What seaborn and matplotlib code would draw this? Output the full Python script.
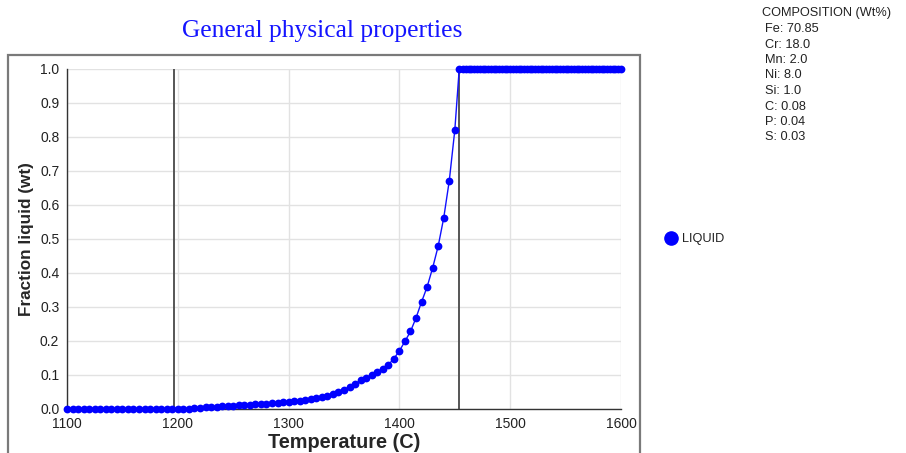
import matplotlib
matplotlib.use("Agg")
import matplotlib.pyplot as plt
from matplotlib.patches import Rectangle
from matplotlib.lines import Line2D
from matplotlib.ticker import MultipleLocator, FormatStrFormatter
import seaborn as sns
import pandas as pd

# ---- data ----
temperature = [
    1100, 1105, 1110, 1115, 1120, 1125, 1130, 1135, 1140, 1145,
    1150, 1155, 1160, 1165, 1170, 1175, 1180, 1185, 1190, 1195,
    1200, 1205, 1210, 1215, 1220, 1225, 1230, 1235, 1240, 1245,
    1250, 1255, 1260, 1265, 1270, 1275, 1280, 1285, 1290, 1295,
    1300, 1305, 1310, 1315, 1320, 1325, 1330, 1335, 1340, 1345,
    1350, 1355, 1360, 1365, 1370, 1375, 1380, 1385, 1390, 1395,
    1400, 1405, 1410, 1415, 1420, 1425, 1430, 1435, 1440, 1445,
    1450, 1454,
    1457.5, 1460, 1462.5, 1465, 1467.5, 1470, 1472.5, 1475, 1477.5, 1480,
    1482.5, 1485, 1487.5, 1490, 1492.5, 1495, 1497.5, 1500, 1502.5, 1505,
    1507.5, 1510, 1512.5, 1515, 1517.5, 1520, 1522.5, 1525, 1527.5, 1530,
    1532.5, 1535, 1537.5, 1540, 1542.5, 1545, 1547.5, 1550, 1552.5, 1555,
    1557.5, 1560, 1562.5, 1565, 1567.5, 1570, 1572.5, 1575, 1577.5, 1580,
    1582.5, 1585, 1587.5, 1590, 1592.5, 1595, 1597.5, 1600,
]
fraction_liquid = [
    0.0, 0.0, 0.0, 0.0, 0.0, 0.0, 0.0, 0.0, 0.0, 0.0,
    0.0, 0.0, 0.0, 0.0, 0.0, 0.0, 0.0, 0.0, 0.0, 0.0,
    0.0, 0.0, 0.0, 0.002, 0.003, 0.005, 0.006, 0.007, 0.008, 0.009,
    0.010, 0.011, 0.012, 0.013, 0.014, 0.015, 0.016, 0.017, 0.018, 0.020,
    0.021, 0.023, 0.025, 0.027, 0.029, 0.032, 0.035, 0.039, 0.044, 0.050,
    0.057, 0.065, 0.074, 0.084, 0.092, 0.100, 0.108, 0.118, 0.130, 0.148,
    0.171, 0.199, 0.228, 0.268, 0.315, 0.359, 0.415, 0.479, 0.562, 0.671,
    0.820, 1.0,
    1.0, 1.0, 1.0, 1.0, 1.0, 1.0, 1.0, 1.0, 1.0, 1.0,
    1.0, 1.0, 1.0, 1.0, 1.0, 1.0, 1.0, 1.0, 1.0, 1.0,
    1.0, 1.0, 1.0, 1.0, 1.0, 1.0, 1.0, 1.0, 1.0, 1.0,
    1.0, 1.0, 1.0, 1.0, 1.0, 1.0, 1.0, 1.0, 1.0, 1.0,
    1.0, 1.0, 1.0, 1.0, 1.0, 1.0, 1.0, 1.0, 1.0, 1.0,
    1.0, 1.0, 1.0, 1.0, 1.0, 1.0, 1.0, 1.0,
]
marker_temps = [1197, 1454]   # solidus / liquidus vertical lines
composition = ["Fe: 70.85", "Cr: 18.0", "Mn: 2.0", "Ni: 8.0",
               "Si: 1.0", "C: 0.08", "P: 0.04", "S: 0.03"]
series_name = "LIQUID"

df = pd.DataFrame({"Temperature": temperature, "Fraction": fraction_liquid})

sns.set_style("white")
plt.rcParams["font.family"] = ["Liberation Sans", "DejaVu Sans"]

fig = plt.figure(figsize=(9.06, 4.53), dpi=100)
ax = fig.add_axes([67/906, 1-409/453, (621-67)/906, (409-69)/453])

# outer frame
fig.patches.append(Rectangle((8/906, -0.05), (640-8)/906, 1.05-55/453,
                             transform=fig.transFigure, fill=False,
                             edgecolor="#7a7a7a", linewidth=1.6))

ax.set_xlim(1100, 1600)
ax.set_ylim(0, 1.0)
ax.xaxis.set_major_locator(MultipleLocator(100))
ax.xaxis.set_minor_locator(MultipleLocator(50))
ax.yaxis.set_major_locator(MultipleLocator(0.1))
ax.yaxis.set_minor_locator(MultipleLocator(0.05))
ax.yaxis.set_major_formatter(FormatStrFormatter("%.1f"))
ax.xaxis.set_major_formatter(FormatStrFormatter("%d"))
ax.grid(True, which="major", color="#e2e2e2", linewidth=1.0)
ax.set_axisbelow(True)

for t in marker_temps:
    ax.axvline(t, color="#555555", linewidth=1.4, zorder=2)

sns.lineplot(data=df, x="Temperature", y="Fraction", ax=ax, color="#1010ff",
             linewidth=1.0, marker="o", markersize=5.6, markeredgewidth=0,
             markerfacecolor="#0000ff", clip_on=False, zorder=3, legend=False)

for s in ["top", "right"]:
    ax.spines[s].set_visible(False)
for s in ["left", "bottom"]:
    ax.spines[s].set_color("#333333")
    ax.spines[s].set_linewidth(1.0)

ax.tick_params(axis="y", which="major", direction="out", length=4,
               width=1, color="#222222", labelsize=10, labelcolor="#222222", pad=1.5)
ax.tick_params(axis="y", which="minor", direction="inout", length=6,
               width=1, color="#222222")
ax.tick_params(axis="x", which="both", direction="in", length=4,
               width=1, color="#222222", labelsize=10, labelcolor="#222222", pad=6)

ax.set_xlabel("Temperature (C)", fontsize=14.3, fontweight="bold", labelpad=1)
ax.set_ylabel("Fraction liquid (wt)", fontsize=12.3, fontweight="bold", labelpad=4)

fig.text(322/906, 1-31/453, "General physical properties",
         family=["Liberation Serif", "DejaVu Serif"], fontsize=18.4,
         color="#1414ff", ha="center", va="center")

# legend
fig.lines.append(Line2D([671/906], [1-238/453], transform=fig.transFigure,
                        marker="o", markersize=9.5, color="#0000ff", linestyle="none"))
fig.text(682/906, 1-239/453, series_name, fontsize=9.2, color="#222222",
         ha="left", va="center")

# composition block
fig.text(762/906, 1-13/453, "COMPOSITION (Wt%)", fontsize=9.2, color="#222222",
         ha="left", va="center")
for i, line in enumerate(composition):
    fig.text(765/906, 1-(29 + i*15.5)/453, line, fontsize=9.2, color="#222222",
             ha="left", va="center")

fig.savefig("out.png", dpi=100)
